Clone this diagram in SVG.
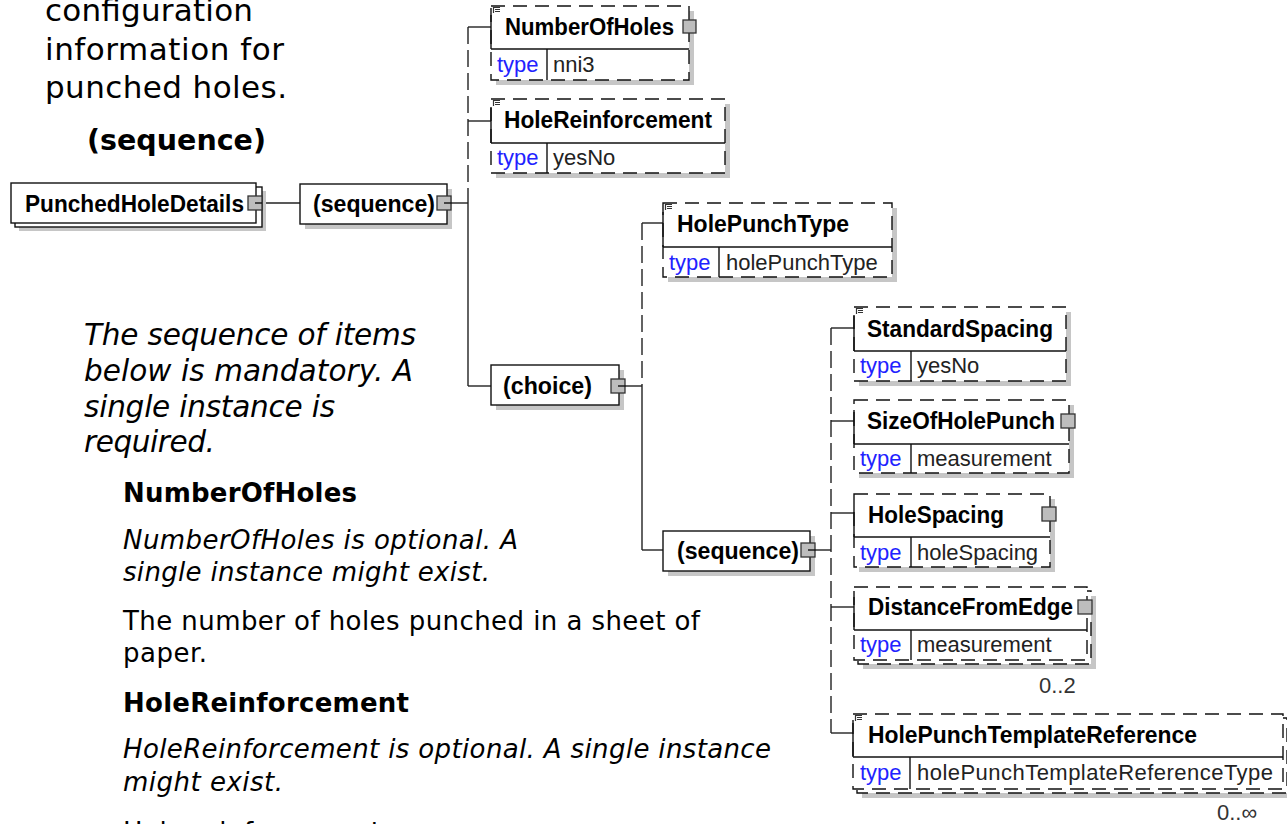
<svg xmlns="http://www.w3.org/2000/svg" width="1287" height="824" viewBox="0 0 1287 824">
<style>
.bg{fill:#fff}
.name{font-family:"Liberation Sans",Arial,sans-serif;font-weight:bold;font-size:23.5px;fill:#000}
.tl{font-family:"Liberation Sans",Arial,sans-serif;font-size:22px;fill:#2222ff}
.tv{font-family:"Liberation Sans",Arial,sans-serif;font-size:22px;fill:#222}
.occ{font-family:"Liberation Sans",Arial,sans-serif;font-size:22px;fill:#333}
.box{fill:#fff;stroke:#111;stroke-width:1.4}
.dbox{fill:#fff;stroke:#111;stroke-width:1.4;stroke-dasharray:14 8}
.sh{fill:#c6c6c6}
.sol{stroke:#111;stroke-width:1.4;fill:none}
.ln{stroke:#222;stroke-width:1.4;fill:none}
.dln{stroke:#222;stroke-width:1.4;fill:none;stroke-dasharray:17 6}
.sq{fill:#bdbdbd;stroke:#333;stroke-width:1.3}
.icon{stroke:#333;stroke-width:1.2;fill:none}
.doc{font-family:"DejaVu Sans",Verdana,sans-serif;fill:#000}
.big{font-size:31px}
.bh{font-size:28.5px;font-weight:bold}
.it{font-size:29.5px;font-style:italic}
.low{font-size:26px}
.lowb{font-size:26px;font-weight:bold}
.lowi{font-size:26px;font-style:italic}
</style>
<rect class="bg" x="0" y="0" width="1287" height="824"/>

<g id="doctext">
<text class="doc big" x="45" y="21" textLength="208">configuration</text>
<text class="doc big" x="45" y="60" textLength="239">information for</text>
<text class="doc big" x="45" y="98" textLength="242">punched holes.</text>
<text class="doc bh" x="87" y="150" textLength="179">(sequence)</text>
<text class="doc it" x="84" y="345" textLength="332">The sequence of items</text>
<text class="doc it" x="84" y="381" textLength="329">below is mandatory. A</text>
<text class="doc it" x="84" y="417" textLength="251">single instance is</text>
<text class="doc it" x="84" y="452" textLength="131">required.</text>
<text class="doc lowb" x="123" y="502" textLength="234">NumberOfHoles</text>
<text class="doc lowi" x="123" y="549" textLength="395">NumberOfHoles is optional. A</text>
<text class="doc lowi" x="123" y="581" textLength="367">single instance might exist.</text>
<text class="doc low" x="123" y="630" textLength="577">The number of holes punched in a sheet of</text>
<text class="doc low" x="123" y="662" textLength="84">paper.</text>
<text class="doc lowb" x="123" y="712" textLength="286">HoleReinforcement</text>
<text class="doc lowi" x="123" y="758" textLength="648">HoleReinforcement is optional. A single instance</text>
<text class="doc lowi" x="123" y="791" textLength="160">might exist.</text>
<text class="doc low" x="123" y="841" textLength="258">Hole reinforcement</text>
</g>

<g id="connectors">
<line class="ln" x1="262" y1="203" x2="300" y2="203"/>
<line class="ln" x1="452" y1="203" x2="468" y2="203"/>
<line class="dln" x1="468" y1="27" x2="468" y2="203"/>
<line class="ln" x1="468" y1="203" x2="468" y2="386"/>
<line class="ln" x1="468" y1="27" x2="491" y2="27"/>
<line class="ln" x1="468" y1="121" x2="491" y2="121"/>
<line class="ln" x1="468" y1="386" x2="491" y2="386"/>
<line class="ln" x1="626" y1="386" x2="642" y2="386"/>
<line class="dln" x1="642" y1="223" x2="642" y2="386"/>
<line class="ln" x1="642" y1="386" x2="642" y2="550"/>
<line class="ln" x1="642" y1="223" x2="663" y2="223"/>
<line class="ln" x1="642" y1="550" x2="663" y2="550"/>
<line class="ln" x1="816" y1="550" x2="831" y2="550"/>
<line class="dln" x1="831" y1="328" x2="831" y2="733"/>
<line class="ln" x1="831" y1="328" x2="854" y2="328"/>
<line class="ln" x1="831" y1="421" x2="854" y2="421"/>
<line class="ln" x1="831" y1="513" x2="854" y2="513"/>
<line class="ln" x1="831" y1="607" x2="854" y2="607"/>
<line class="ln" x1="831" y1="733" x2="853" y2="733"/>
</g>

<g id="PunchedHoleDetails">
<rect class="sh" x="19" y="191" width="247" height="40"/>
<rect class="box" x="15" y="187" width="247" height="40"/>
<rect class="box" x="11" y="183" width="245" height="40"/>
<text class="name" x="25" y="212" textLength="219" lengthAdjust="spacingAndGlyphs">PunchedHoleDetails</text>
<rect class="sq" x="248" y="196" width="14" height="14"/>
<line class="sol" x1="255" y1="203" x2="262" y2="203"/>
</g>

<g id="sequence1">
<rect class="sh" x="305" y="189" width="147" height="40"/>
<rect class="box" x="300" y="184" width="147" height="40"/>
<text class="name" x="313" y="212" textLength="122" lengthAdjust="spacingAndGlyphs">(sequence)</text>
<rect class="sq" x="437" y="196" width="14" height="14"/>
<line class="sol" x1="444" y1="203" x2="452" y2="203"/>
</g>

<g id="NumberOfHoles">
<rect class="sh" x="496" y="11" width="198" height="74"/>
<rect class="dbox" x="491" y="6" width="198" height="74"/>
<line class="sol" x1="491" y1="15" x2="491" y2="49"/>
<line class="sol" x1="491" y1="49" x2="689" y2="49"/>
<line class="sol" x1="547" y1="49" x2="547" y2="80"/>
<path class="icon" d="M493.5,7v6M493,7.5h7M495,9.5h5M495,11.5h5"/>
<text class="name" x="505" y="35" textLength="169" lengthAdjust="spacingAndGlyphs">NumberOfHoles</text>
<text class="tl" x="497" y="72">type</text>
<text class="tv" x="553" y="72">nni3</text>
<rect class="sq" x="683" y="20" width="13" height="13"/>
</g>

<g id="HoleReinforcement">
<rect class="sh" x="496" y="104" width="234" height="74"/>
<rect class="dbox" x="491" y="99" width="234" height="74"/>
<line class="sol" x1="491" y1="108" x2="491" y2="143"/>
<line class="sol" x1="491" y1="143" x2="725" y2="143"/>
<line class="sol" x1="547" y1="143" x2="547" y2="173"/>
<path class="icon" d="M493.5,100v6M493,100.5h7M495,102.5h5M495,104.5h5"/>
<text class="name" x="504" y="128" textLength="208" lengthAdjust="spacingAndGlyphs">HoleReinforcement</text>
<text class="tl" x="497" y="165">type</text>
<text class="tv" x="553" y="165">yesNo</text>
</g>

<g id="choice">
<rect class="sh" x="496" y="370" width="128" height="40"/>
<rect class="box" x="491" y="365" width="128" height="40"/>
<text class="name" x="503" y="394" textLength="89" lengthAdjust="spacingAndGlyphs">(choice)</text>
<rect class="sq" x="611" y="379" width="14" height="14"/>
<line class="sol" x1="618" y1="386" x2="626" y2="386"/>
</g>

<g id="HolePunchType">
<rect class="sh" x="668" y="208" width="229" height="74"/>
<rect class="dbox" x="663" y="203" width="229" height="74"/>
<line class="sol" x1="663" y1="212" x2="663" y2="247"/>
<line class="sol" x1="663" y1="247" x2="892" y2="247"/>
<line class="sol" x1="719" y1="247" x2="719" y2="277"/>
<path class="icon" d="M665.5,204v6M665,204.5h7M667,206.5h5M667,208.5h5"/>
<text class="name" x="677" y="232" textLength="172" lengthAdjust="spacingAndGlyphs">HolePunchType</text>
<text class="tl" x="669" y="270">type</text>
<text class="tv" x="726" y="270">holePunchType</text>
</g>

<g id="sequence2">
<rect class="sh" x="668" y="536" width="147" height="40"/>
<rect class="box" x="663" y="531" width="147" height="40"/>
<text class="name" x="677" y="559" textLength="122" lengthAdjust="spacingAndGlyphs">(sequence)</text>
<rect class="sq" x="801" y="543" width="14" height="14"/>
<line class="sol" x1="808" y1="550" x2="816" y2="550"/>
</g>

<g id="StandardSpacing">
<rect class="sh" x="859" y="312" width="212" height="74"/>
<rect class="dbox" x="854" y="307" width="212" height="74"/>
<line class="sol" x1="854" y1="316" x2="854" y2="351"/>
<line class="sol" x1="854" y1="351" x2="1066" y2="351"/>
<line class="sol" x1="911" y1="351" x2="911" y2="381"/>
<path class="icon" d="M856.5,308v6M856,308.5h7M858,310.5h5M858,312.5h5"/>
<text class="name" x="867" y="337" textLength="186" lengthAdjust="spacingAndGlyphs">StandardSpacing</text>
<text class="tl" x="860" y="373">type</text>
<text class="tv" x="917" y="373">yesNo</text>
</g>

<g id="SizeOfHolePunch">
<rect class="sh" x="859" y="405" width="215" height="73"/>
<rect class="dbox" x="854" y="400" width="215" height="73"/>
<line class="sol" x1="854" y1="410" x2="854" y2="444"/>
<line class="sol" x1="854" y1="444" x2="1069" y2="444"/>
<line class="sol" x1="911" y1="444" x2="911" y2="473"/>
<text class="name" x="867" y="429" textLength="188" lengthAdjust="spacingAndGlyphs">SizeOfHolePunch</text>
<text class="tl" x="860" y="466">type</text>
<text class="tv" x="917" y="466">measurement</text>
<rect class="sq" x="1061" y="414" width="14" height="14"/>
</g>

<g id="HoleSpacing">
<rect class="sh" x="859" y="499" width="196" height="73"/>
<rect class="dbox" x="854" y="494" width="196" height="73"/>
<line class="sol" x1="854" y1="504" x2="854" y2="537"/>
<line class="sol" x1="854" y1="537" x2="1050" y2="537"/>
<line class="sol" x1="911" y1="537" x2="911" y2="567"/>
<text class="name" x="868" y="523" textLength="136" lengthAdjust="spacingAndGlyphs">HoleSpacing</text>
<text class="tl" x="860" y="560">type</text>
<text class="tv" x="917" y="560">holeSpacing</text>
<rect class="sq" x="1042" y="507" width="14" height="14"/>
</g>

<g id="DistanceFromEdge">
<rect class="sh" x="863" y="596" width="233" height="73"/>
<rect class="dbox" x="858" y="591" width="233" height="73"/>
<rect class="dbox" x="854" y="587" width="233" height="73"/>
<line class="sol" x1="854" y1="597" x2="854" y2="630"/>
<line class="sol" x1="854" y1="630" x2="1087" y2="630"/>
<line class="sol" x1="911" y1="630" x2="911" y2="660"/>
<text class="name" x="868" y="615" textLength="205" lengthAdjust="spacingAndGlyphs">DistanceFromEdge</text>
<text class="tl" x="860" y="652">type</text>
<text class="tv" x="917" y="652">measurement</text>
<rect class="sq" x="1078" y="600" width="14" height="14"/>
<text class="occ" x="1039" y="693">0..2</text>
</g>

<g id="HolePunchTemplateReference">
<rect class="sh" x="862" y="723" width="430" height="75"/>
<rect class="dbox" x="857" y="718" width="430" height="75"/>
<rect class="dbox" x="853" y="714" width="430" height="75"/>
<line class="sol" x1="853" y1="723" x2="853" y2="757"/>
<line class="sol" x1="853" y1="757" x2="1283" y2="757"/>
<line class="sol" x1="910" y1="757" x2="910" y2="789"/>
<path class="icon" d="M855.5,715v6M855,715.5h7M857,717.5h5M857,719.5h5"/>
<text class="name" x="868" y="743" textLength="329" lengthAdjust="spacingAndGlyphs">HolePunchTemplateReference</text>
<text class="tl" x="860" y="780">type</text>
<text class="tv" x="917" y="780" textLength="356">holePunchTemplateReferenceType</text>
<text class="occ" x="1217" y="820">0..∞</text>
</g>
</svg>
